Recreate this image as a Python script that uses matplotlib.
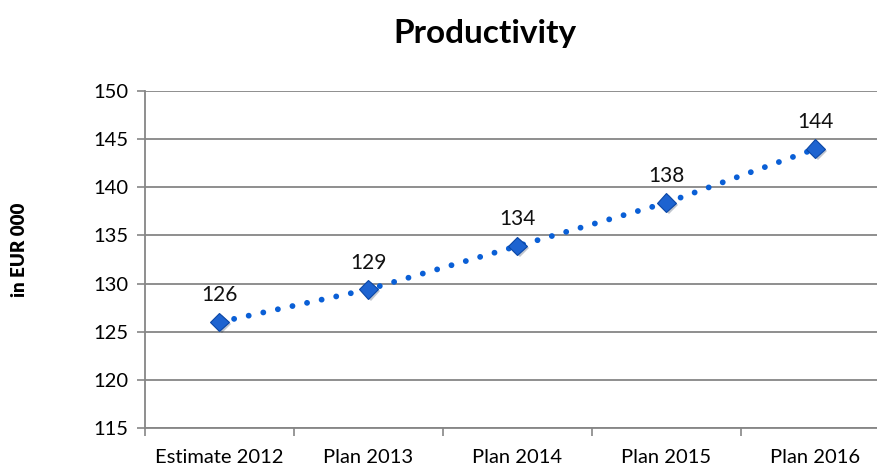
import matplotlib
matplotlib.use("Agg")
import matplotlib.pyplot as plt
import matplotlib.patheffects as pe
import numpy as np

categories = ["Estimate 2012", "Plan 2013", "Plan 2014", "Plan 2015", "Plan 2016"]
values = [126.0, 129.4, 133.9, 138.4, 144.0]
labels = ["126", "129", "134", "138", "144"]
yticks = [115, 120, 125, 130, 135, 140, 145, 150]

plt.rcParams['font.family'] = ['Lato', 'DejaVu Sans']

W, H = 878, 467
fig = plt.figure(figsize=(W / 100, H / 100), dpi=100)
ax = fig.add_axes([145 / W, 39 / H, 745 / W, 337 / H])

x = np.arange(len(categories))
ax.plot(x, values, linestyle=(0, (0.01, 2.55)), lw=4.2, color="#0a5fd6",
        dash_capstyle="round", zorder=3)
ax.plot(x, values, linestyle="none", marker="D", markersize=9.5,
        markerfacecolor="#1d63d0", markeredgecolor="#0b47a6", markeredgewidth=0.8,
        zorder=4,
        path_effects=[pe.SimplePatchShadow(offset=(1.5, -1.5), alpha=0.25), pe.Normal()])

for xi, v, t in zip(x, values, labels):
    ax.annotate(t, (xi, v), xytext=(0, 12), textcoords="offset points",
                ha="center", va="bottom", fontsize=15, color="#111111")

ax.set_xlim(-0.5, len(categories) - 0.5)
ax.set_ylim(115, 150)
ax.set_yticks(yticks)
ax.set_xticks(x)
ax.set_xticklabels(categories, fontsize=14.5)
ax.set_xticks(np.arange(-0.5, len(categories), 1.0), minor=True)
ax.tick_params(axis="x", which="major", length=0, pad=15)
ax.tick_params(axis="x", which="minor", length=6, color="#868686", width=1.2, direction="out")
ax.tick_params(axis="y", length=6, color="#868686", width=1.2, labelsize=14.5, pad=6)

ax.grid(axis="y", color="#868686", linewidth=1.3)
ax.set_axisbelow(True)
for s in ["top", "right"]:
    ax.spines[s].set_visible(False)
for s in ["left", "bottom"]:
    ax.spines[s].set_color("#868686")
    ax.spines[s].set_linewidth(1.3)

fig.text(485 / W, 1 - 33 / H, "Productivity", ha="center", va="center",
         fontsize=24, fontweight="bold")
fig.text(20 / W, 1 - 250 / H, "in EUR 000", ha="center", va="center",
         rotation=90, fontsize=13.5, fontweight="heavy")

fig.savefig("out.png", dpi=100)
